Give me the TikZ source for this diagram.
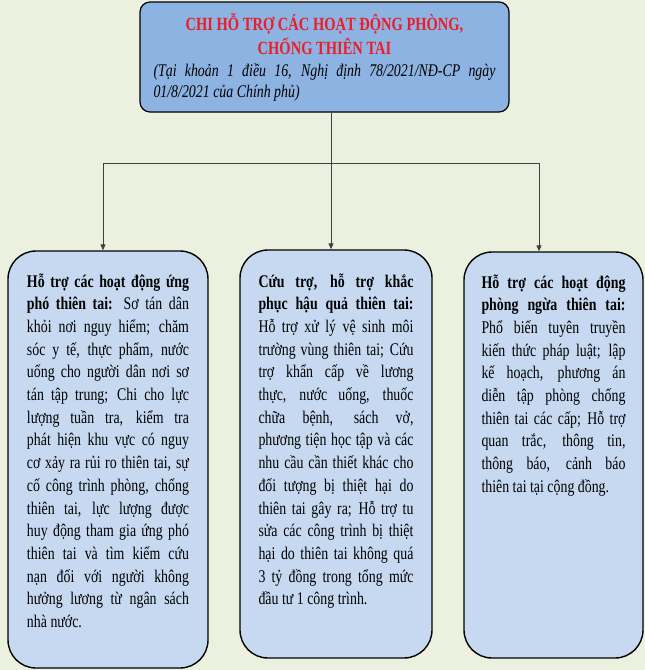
\documentclass[tikz,border=0pt]{standalone}
\usepackage{fontspec}
\setmainfont[FakeStretch=0.78]{Liberation Serif}
\usepackage{xcolor}
\usetikzlibrary{arrows.meta}
\definecolor{bgcol}{HTML}{EBF1DE}
\definecolor{topcol}{HTML}{8DB3E2}
\definecolor{subcol}{HTML}{C6D9F1}
\definecolor{linkcol}{HTML}{404040}
\definecolor{titlecol}{HTML}{EE1C25}
\tikzstyle{topbox} = [draw=black, fill=topcol, line width=1.2pt,
    rectangle, rounded corners=10pt, inner xsep=13.5pt, inner ysep=0pt]
\tikzstyle{subbox} = [draw=black, fill=subcol, line width=1.4pt,
    rectangle, rounded corners=28pt, inner ysep=0pt]
\tikzstyle{link} = [draw=linkcol, line width=0.9pt]
\tikzstyle{tip} = [-{Triangle[width=5pt,length=6pt]}]
\newcommand{\bodyfont}{\fontsize{17.8pt}{22.7pt}\selectfont\tolerance=10000\hbadness=10000}

\begin{document}
\begin{tikzpicture}[x=1pt, y=-1pt]
                \fill [bgcol] (0,0) rectangle (645,670);
                \useasboundingbox (0,0) rectangle (645,670);
                % top box
                \node [topbox] (chi) at (324.5,57) {%
                    \begin{minipage}[c][110pt][t]{342pt}
                        {\centering\fontsize{18.6pt}{24pt}\selectfont\bfseries\color{titlecol}
                        \rule{0pt}{28pt}CHI HỖ TRỢ CÁC HOẠT ĐỘNG PHÒNG,\\
                        CHỐNG THIÊN TAI\par}
                        \vspace{1pt}
                        {\noindent\fontsize{17.8pt}{21pt}\selectfont\itshape\tolerance=10000\hbadness=10000
                        (Tại khoản 1 điều 16, Nghị định 78/2021/NĐ-CP ngày\linebreak
                        01/8/2021 của Chính phủ)\par}
                    \end{minipage}
                };
                % three branches
                \node [subbox, inner xsep=19pt] (ungpho) at (108,459.5) {%
                    \begin{minipage}[c][417pt][t]{162pt}
                        \bodyfont\rule{0pt}{36pt}\textbf{Hỗ trợ các hoạt động ứng\linebreak
                        phó thiên tai:} Sơ tán dân\linebreak
                        khỏi nơi nguy hiểm; chăm\linebreak
                        sóc y tế, thực phẩm, nước\linebreak
                        uống cho người dân nơi sơ\linebreak
                        tán tập trung; Chi cho lực\linebreak
                        lượng tuần tra, kiểm tra\linebreak
                        phát hiện khu vực có nguy\linebreak
                        cơ xảy ra rủi ro thiên tai, sự\linebreak
                        cố công trình phòng, chống\linebreak
                        thiên tai, lực lượng được\linebreak
                        huy động tham gia ứng phó\linebreak
                        thiên tai và tìm kiếm cứu\linebreak
                        nạn đối với người không\linebreak
                        hưởng lương từ ngân sách\linebreak
                        nhà nước.\par
                    \end{minipage}
                };
                \node [subbox, inner xsep=18.5pt] (cuutro) at (336,454) {%
                    \begin{minipage}[c][408pt][t]{155pt}
                        \bodyfont\rule{0pt}{37pt}\textbf{Cứu trợ, hỗ trợ khắc\linebreak
                        phục hậu quả thiên tai:}\linebreak
                        Hỗ trợ xử lý vệ sinh môi\linebreak
                        trường vùng thiên tai; Cứu\linebreak
                        trợ khẩn cấp về lương\linebreak
                        thực, nước uống, thuốc\linebreak
                        chữa bệnh, sách vở,\linebreak
                        phương tiện học tập và các\linebreak
                        nhu cầu cần thiết khác cho\linebreak
                        đối tượng bị thiệt hại do\linebreak
                        thiên tai gây ra; Hỗ trợ tu\linebreak
                        sửa các công trình bị thiệt\linebreak
                        hại do thiên tai không quá\linebreak
                        3 tỷ đồng trong tổng mức\linebreak
                        đầu tư 1 công trình.\par
                    \end{minipage}
                };
                \node [subbox, inner xsep=17.5pt] (phongngua) at (553.5,455) {%
                    \begin{minipage}[c][406pt][t]{144pt}
                        \bodyfont\rule{0pt}{36pt}\textbf{Hỗ trợ các hoạt động\linebreak
                        phòng ngừa thiên tai:}\linebreak
                        Phổ biến tuyên truyền\linebreak
                        kiến thức pháp luật; lập\linebreak
                        kế hoạch, phương án\linebreak
                        diễn tập phòng chống\linebreak
                        thiên tai các cấp; Hỗ trợ\linebreak
                        quan trắc, thông tin,\linebreak
                        thông báo, cảnh báo\linebreak
                        thiên tai tại cộng đồng.\par
                    \end{minipage}
                };
                % connectors
                \coordinate (hub) at (331,163);
                \coordinate (hubl) at (103,163);
                \coordinate (hubr) at (539,163);
                \draw [link] (chi.south -| hub) -- (hub);
                \draw [link] (hubl) -- (hubr);
                \draw [link, tip] (hubl) -- (hubl |- ungpho.north);
                \draw [link, tip] (hub) -- (hub |- cuutro.north);
                \draw [link, tip] (hubr) -- (hubr |- phongngua.north);
            \end{tikzpicture}
\end{document}
